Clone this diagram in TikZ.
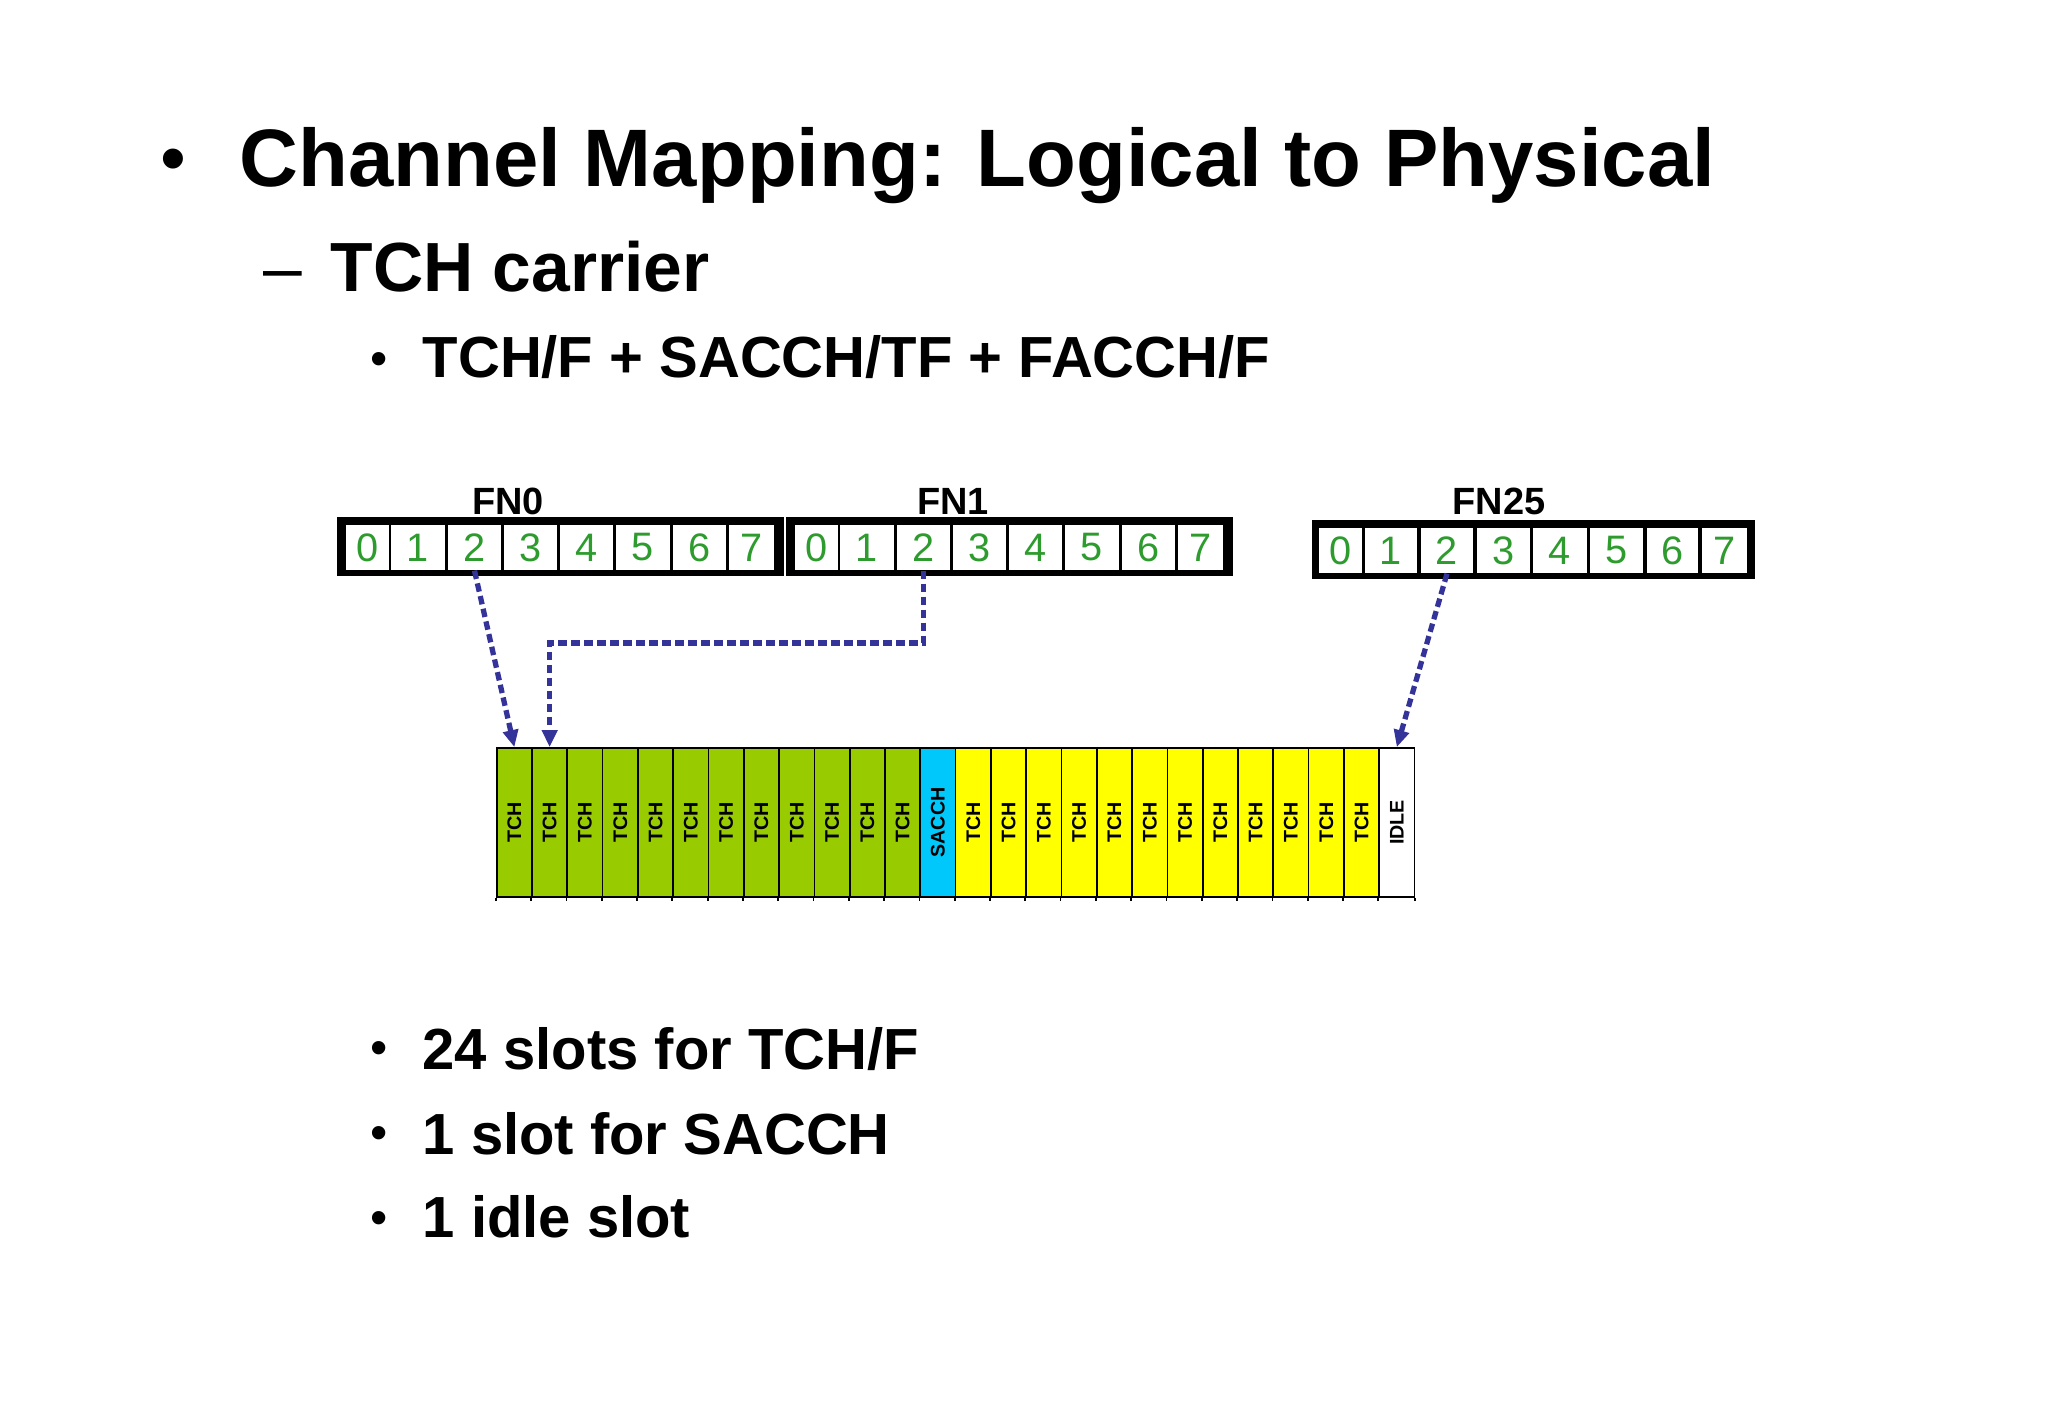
\documentclass[tikz,border=0pt]{standalone}
\usepackage{fontspec}
\setmainfont{Liberation Sans}
\usepackage{graphicx}
\usetikzlibrary{arrows.meta, positioning, calc}

\definecolor{tchgreen}{RGB}{153,204,0}
\definecolor{tchyellow}{RGB}{255,255,0}
\definecolor{sacchblue}{RGB}{0,200,250}
\definecolor{digitgreen}{RGB}{45,155,45}
\definecolor{arrowblue}{RGB}{51,51,153}

\tikzset{
  cell/.style={fill=white, inner sep=0, minimum height=0.45cm, text=digitgreen, font=\fontsize{11.3}{13}\selectfont},
  fnlabel/.style={anchor=base, inner sep=0, font=\bfseries\fontsize{10.8}{12}\selectfont},
  slot/.style={draw=black, line width=0.5pt, inner sep=0, minimum width=0.353cm, minimum height=1.49cm, font=\bfseries\fontsize{5.6}{6}\selectfont},
  maparrow/.style={draw=arrowblue, line width=1.5pt, dash pattern=on 0.85mm off 0.45mm, -{Triangle[length=1.7mm,width=1.5mm]}},
  bullet/.style={anchor=base, inner sep=0, font=\fontsize{14}{16}\selectfont},
  item/.style={anchor=base west, inner sep=0, font=\bfseries\fontsize{16.5}{20}\selectfont},
}

\begin{document}
\begin{tikzpicture}
\useasboundingbox (0,0) rectangle (20.48,14.18);

% Headings
\node[bullet, font=\fontsize{21}{24}\selectfont] (titlebullet) at (1.73,12.34) {•};
\node[anchor=base west, inner sep=0, font=\bfseries\fontsize{23.2}{28}\selectfont] (title) at (2.39,12.31) {Channel Mapping: Logical to Physical};
\node[anchor=base, inner sep=0, font=\fontsize{19.8}{24}\selectfont] (subdash) at (2.83,11.26) {–};
\node[anchor=base west, inner sep=0, font=\bfseries\fontsize{19.8}{24}\selectfont] (sub) at (3.30,11.26) {TCH carrier};
\node[bullet] (combobullet) at (3.79,10.42) {•};
\node[item] (combo) at (4.22,10.40) {TCH/F + SACCH/TF + FACCH/F};

% Frame FN0
\begin{scope}[xshift=3.37cm, yshift=8.42cm]
\fill (0,0) rectangle (4.47,0.59);
\foreach \i/\a/\b in {0/0.09/0.52, 1/0.54/1.08, 2/1.11/1.64, 3/1.67/2.20, 4/2.23/2.76, 5/2.79/3.33, 6/3.36/3.89, 7/3.92/4.37} {
    \pgfmathsetmacro\cw{\b-\a}
    \node[cell, minimum width=\cw cm] (f0-\i) at ({(\a+\b)/2},0.285) {\i};
}
\node[fnlabel] (fn0) at (1.71,0.615) {FN0};
\end{scope}

% Frame FN1
\begin{scope}[xshift=7.86cm, yshift=8.42cm]
\fill (0,0) rectangle (4.47,0.59);
\foreach \i/\a/\b in {0/0.09/0.52, 1/0.54/1.08, 2/1.11/1.64, 3/1.67/2.20, 4/2.23/2.76, 5/2.79/3.33, 6/3.36/3.89, 7/3.92/4.37} {
    \pgfmathsetmacro\cw{\b-\a}
    \node[cell, minimum width=\cw cm] (f1-\i) at ({(\a+\b)/2},0.285) {\i};
}
\node[fnlabel] (fn1) at (1.67,0.615) {FN1};
\end{scope}

% Frame FN25
\begin{scope}[xshift=13.12cm, yshift=8.39cm]
\fill (0,0) rectangle (4.43,0.59);
\foreach \i/\a/\b in {0/0.07/0.50, 1/0.53/1.05, 2/1.09/1.61, 3/1.65/2.18, 4/2.21/2.75, 5/2.78/3.31, 6/3.35/3.86, 7/3.90/4.35} {
    \pgfmathsetmacro\cw{\b-\a}
    \node[cell, minimum width=\cw cm] (f25-\i) at ({(\a+\b)/2},0.285) {\i};
}
\node[fnlabel] (fn25) at (1.87,0.645) {FN25};
\end{scope}

% Multiframe of 26 slots
\foreach \i in {0,...,11}
    \node[slot, fill=tchgreen] (s\i) at ({4.967+0.353*(\i+0.5)},5.955) {\rotatebox{90}{TCH}};
\node[slot, fill=sacchblue] (s12) at ({4.967+0.353*12.5},5.955) {\rotatebox{90}{SACCH}};
\foreach \i in {13,...,24}
    \node[slot, fill=tchyellow] (s\i) at ({4.967+0.353*(\i+0.5)},5.955) {\rotatebox{90}{TCH}};
\node[slot, fill=white] (s25) at ({4.967+0.353*25.5},5.955) {\rotatebox{90}{IDLE}};
\foreach \i in {0,...,25}
    \draw[line width=0.5pt] (s\i.south west) -- ++(0,-0.035);
\draw[line width=0.5pt] (s25.south east) -- ++(0,-0.035);

% Mapping arrows
\coordinate (bend) at (f1-2.south |- 0,7.75);
\draw[maparrow] (f0-2.south) -- (s0.north);
\draw[maparrow] (f1-2.south) -- (bend) -| (s1.north);
\draw[maparrow] (f25-2.south) -- (s25.north);

% Summary
\node[bullet] (b1) at (3.79,3.53) {•};
\node[item] (tchcount) at (4.22,3.48) {24 slots for TCH/F};
\node[bullet] (b2) at (3.79,2.68) {•};
\node[item] (sacchcount) at (4.22,2.63) {1 slot for SACCH};
\node[bullet] (b3) at (3.79,1.83) {•};
\node[item] (idlecount) at (4.22,1.80) {1 idle slot};

\end{tikzpicture}
\end{document}
